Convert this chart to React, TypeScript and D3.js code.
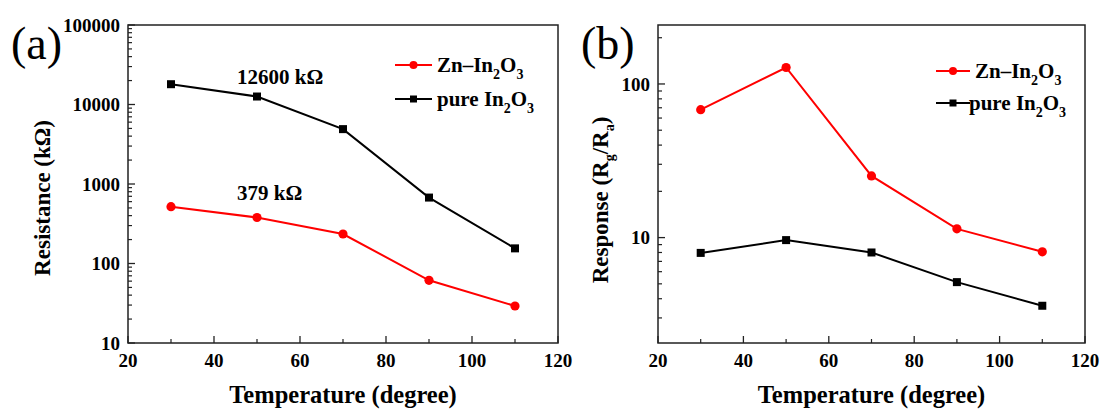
import React from "react";
import * as d3 from "d3";

const temps = [30, 50, 70, 90, 110];
const resZn = [519, 379, 235, 61.5, 29.2];
const resPure = [18000, 12600, 4900, 675, 155];
const respZn = [68, 128, 25.2, 11.4, 8.08];
const respPure = [7.95, 9.63, 8.0, 5.13, 3.6];
const xTicks = [20, 40, 60, 80, 100, 120];
const xMinor = [30, 50, 70, 90, 110];
const yTicksA = [10, 100, 1000, 10000, 100000];
const yTicksB = [10, 100];

const FONT = "Liberation Serif, Times New Roman, Times, DejaVu Serif";
const RED = "#ff0000";
const BLACK = "#000000";
const tStyle = { fontFamily: FONT };

function minorLog(domain: [number, number]) {
  const out: number[] = [];
  for (let e = -1; e < 7; e++) {
    for (let m = 2; m <= 9; m++) {
      const v = m * Math.pow(10, e);
      if (v > domain[0] && v < domain[1]) out.push(v);
    }
  }
  return out;
}

function Formula({ prefix }: { prefix: string }) {
  return (
    <>
      <tspan>{prefix}In</tspan>
      <tspan fontSize={14} dy={7}>2</tspan>
      <tspan dy={-7}>O</tspan>
      <tspan fontSize={14} dy={7}>3</tspan>
    </>
  );
}

function Panel({
  x0, x1, y0, y1, yDomain, yMajor, zn, pure, label, legend,
}: any) {
  const x = d3.scaleLinear().domain([20, 120]).range([x0, x1]);
  const y = d3.scaleLog().domain(yDomain).range([y1, y0]);
  const line = d3
    .line<number>()
    .x((_, i) => x(temps[i]))
    .y((d) => y(d));
  const minors = minorLog(yDomain);
  return (
    <g>
      {minors.map((v) => (
        <line key={"my" + v} x1={x0} x2={x0 + 4} y1={y(v)} y2={y(v)} stroke="#222" strokeWidth={1.2} />
      ))}
      {yMajor.map((v: number) => (
        <g key={"y" + v}>
          <line x1={x0} x2={x0 + 7} y1={y(v)} y2={y(v)} stroke="#222" strokeWidth={1.3} />
          <text x={x0 - 8} y={y(v)} dy="0.35em" textAnchor="end" style={tStyle} fontWeight="bold" fontSize={19}>
            {v}
          </text>
        </g>
      ))}
      {xMinor.map((v) => (
        <line key={"mx" + v} x1={x(v)} x2={x(v)} y1={y1} y2={y1 - 4} stroke="#222" strokeWidth={1.2} />
      ))}
      {xTicks.map((v) => (
        <g key={"x" + v}>
          <line x1={x(v)} x2={x(v)} y1={y1} y2={y1 - 7} stroke="#222" strokeWidth={1.3} />
          <text x={x(v)} y={y1 + 24} textAnchor="middle" style={tStyle} fontWeight="bold" fontSize={19}>
            {v}
          </text>
        </g>
      ))}
      <rect x={x0} y={y0} width={x1 - x0} height={y1 - y0} fill="none" stroke="#222" strokeWidth={1.5} />
      <path d={line(pure) || ""} fill="none" stroke={BLACK} strokeWidth={2} />
      <path d={line(zn) || ""} fill="none" stroke={RED} strokeWidth={2} />
      {pure.map((v: number, i: number) => (
        <rect key={"p" + i} x={x(temps[i]) - 4} y={y(v) - 4} width={8} height={8} fill={BLACK} />
      ))}
      {zn.map((v: number, i: number) => (
        <circle key={"z" + i} cx={x(temps[i])} cy={y(v)} r={4.6} fill={RED} />
      ))}
      <text x={(x0 + x1) / 2} y={403} textAnchor="middle" style={tStyle} fontWeight="bold" fontSize={24.5}>
        Temperature (degree)
      </text>
      <text x={label.x} y={label.y} style={tStyle} fontSize={46}>
        {label.t}
      </text>
      <g>
        <line x1={legend.lx0} x2={legend.lx1} y1={legend.y1} y2={legend.y1} stroke={RED} strokeWidth={2} />
        <circle cx={(legend.lx0 + legend.lx1) / 2} cy={legend.y1} r={4} fill={RED} />
        <text x={legend.tx1} y={legend.y1 + 7} style={tStyle} fontWeight="bold" fontSize={21}>
          <Formula prefix={"Zn\u2013"} />
        </text>
        <line x1={legend.lx0} x2={legend.lx1} y1={legend.y2} y2={legend.y2} stroke={BLACK} strokeWidth={2} />
        <rect x={(legend.lx0 + legend.lx1) / 2 - 3.5} y={legend.y2 - 3.5} width={7} height={7} fill={BLACK} />
        <text x={legend.tx2} y={legend.y2 + 7} style={tStyle} fontWeight="bold" fontSize={21}>
          <Formula prefix={"pure "} />
        </text>
      </g>
    </g>
  );
}

export default function App() {
  return (
    <svg width={1103} height={412} style={{ position: "absolute", left: 0, top: 0, background: "#fff" }}>
      <rect width={1103} height={412} fill="#fff" />
      <Panel
        x0={128} x1={558} y0={25} y1={343}
        yDomain={[10, 100000]} yMajor={yTicksA}
        zn={resZn} pure={resPure}
        label={{ t: "(a)", x: 11, y: 59 }}
        legend={{ lx0: 395, lx1: 432, y1: 65, y2: 99, tx1: 437, tx2: 437 }}
      />
      <Panel
        x0={658} x1={1085} y0={25} y1={343}
        yDomain={[2.06, 242]} yMajor={yTicksB}
        zn={respZn} pure={respPure}
        label={{ t: "(b)", x: 581, y: 59 }}
        legend={{ lx0: 936, lx1: 970, y1: 71, y2: 103, tx1: 975, tx2: 969 }}
      />
      <text x={237} y={84} style={tStyle} fontWeight="bold" fontSize={21}>12600 kΩ</text>
      <text x={237} y={200} style={tStyle} fontWeight="bold" fontSize={21}>379 kΩ</text>
      <text transform="translate(50,198) rotate(-90)" textAnchor="middle" style={tStyle} fontWeight="bold" fontSize={23}>
        Resistance (kΩ)
      </text>
      <text transform="translate(608,200) rotate(-90)" textAnchor="middle" style={tStyle} fontWeight="bold" fontSize={23}>
        <tspan>Response (R</tspan>
        <tspan fontSize={14} dy={6}>g</tspan>
        <tspan dy={-6}>/R</tspan>
        <tspan fontSize={14} dy={6}>a</tspan>
        <tspan dy={-6}>)</tspan>
      </text>
    </svg>
  );
}
